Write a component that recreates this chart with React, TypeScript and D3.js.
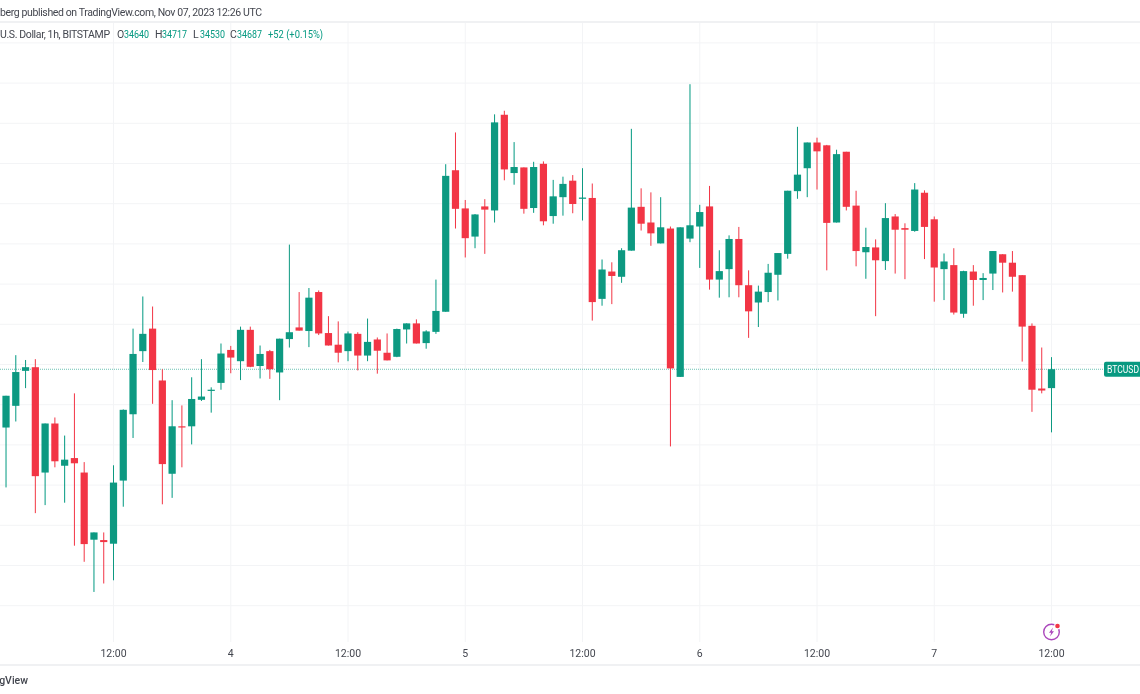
import React, { useEffect, useRef } from 'react';
import { select, scaleUtc, scaleLinear, axisBottom, axisLeft, utcHour, line } from 'd3';

const W = 1140;
const H = 694;

// hourly BITSTAMP candles, first one is Nov 3 01:00 UTC
const firstCandle = Date.UTC(2023, 10, 3, 1);

const opens = [
  34542, 34596, 34683, 34692, 34430, 34552, 34447, 34466, 34430, 34263, 34262, 34253,
  34410, 34575, 34732, 34788, 34659, 34427, 34545, 34545, 34611, 34633, 34653, 34735,
  34707, 34785, 34695, 34732, 34679, 34762, 34791, 34782, 34879, 34777, 34748, 34732,
  34775, 34721, 34761, 34728, 34718, 34786, 34801, 34752, 34780, 34830, 35182, 35087,
  35017, 35092, 35082, 35320, 35175, 35189, 35088, 35198, 35068, 35115, 35156, 35111,
  35113, 34862, 34930, 34917, 34982, 35091, 35052, 35000, 35037, 34668, 35012, 35042,
  35092, 34910, 34936, 35011, 34896, 34853, 34879, 34922, 34974, 35130, 35187, 35251,
  35244, 35052, 35228, 35094, 34978, 34990, 34956, 35067, 35038, 35031, 35126, 35060,
  34936, 34946, 34825, 34930, 34909, 34925, 34973, 34952, 34921, 34795, 34639, 34640,
];
const highs = [
  34621, 34722, 34710, 34712, 34552, 34567, 34522, 34627, 34456, 34281, 34281, 34448,
  34587, 34788, 34868, 34843, 34687, 34610, 34597, 34667, 34712, 34642, 34751, 34745,
  34793, 34793, 34746, 34735, 34763, 34997, 34879, 34889, 34883, 34819, 34806, 34781,
  34779, 34813, 34766, 34776, 34788, 34801, 34811, 34784, 34910, 35197, 35276, 35108,
  35073, 35110, 35321, 35330, 35252, 35189, 35203, 35204, 35158, 35166, 35170, 35187,
  35149, 34960, 34953, 34988, 35285, 35137, 35127, 35115, 35042, 35040, 35396, 35096,
  35143, 34983, 35020, 35041, 34933, 34895, 34949, 34976, 35131, 35290, 35251, 35263,
  35245, 35233, 35228, 35131, 35039, 35010, 35100, 35073, 35050, 35150, 35132, 35067,
  34975, 34988, 34932, 34946, 34926, 34981, 34973, 34981, 34921, 34801, 34741, 34717,
];
const lows = [
  34393, 34557, 34640, 34329, 34349, 34443, 34355, 34248, 34208, 34133, 34154, 34162,
  34345, 34516, 34705, 34601, 34351, 34367, 34443, 34500, 34608, 34579, 34636, 34677,
  34660, 34692, 34664, 34663, 34610, 34741, 34783, 34742, 34772, 34746, 34704, 34707,
  34684, 34707, 34676, 34709, 34717, 34751, 34751, 34738, 34775, 34830, 35037, 34965,
  34988, 34974, 35052, 35157, 35146, 35074, 35076, 35045, 35049, 35069, 35075, 35057,
  34808, 34845, 34849, 34902, 34982, 35032, 34994, 35000, 34495, 34668, 35003, 34939,
  34885, 34865, 34866, 34866, 34765, 34792, 34854, 34858, 34962, 35111, 35115, 35134,
  34933, 35052, 35082, 34943, 34912, 34819, 34934, 34925, 34911, 35029, 34961, 34855,
  34859, 34823, 34815, 34845, 34859, 34884, 34878, 34880, 34706, 34581, 34627, 34530,
];
const closes = [
  34621, 34680, 34692, 34421, 34552, 34458, 34462, 34453, 34252, 34281, 34257, 34405,
  34586, 34725, 34775, 34685, 34451, 34545, 34542, 34613, 34619, 34636, 34726, 34716,
  34785, 34693, 34725, 34687, 34763, 34779, 34783, 34865, 34776, 34746, 34728, 34776,
  34721, 34755, 34733, 34709, 34787, 34801, 34751, 34781, 34832, 35168, 35086, 35013,
  35072, 35084, 35301, 35184, 35190, 35086, 35190, 35055, 35117, 35148, 35098, 35114,
  34854, 34935, 34919, 34983, 35089, 35049, 35025, 35040, 34689, 35040, 35045, 35078,
  34910, 34931, 35011, 34896, 34831, 34880, 34927, 34976, 35131, 35171, 35251, 35229,
  35051, 35222, 35091, 34981, 34991, 34958, 35063, 35034, 35034, 35134, 35041, 34940,
  34955, 34828, 34931, 34909, 34914, 34981, 34952, 34917, 34793, 34636, 34634, 34687,
];

const priceGrid = [
  34100, 34200, 34300, 34400, 34500, 34600, 34700, 34800,
  34900, 35000, 35100, 35200, 35300, 35400, 35500,
];
const timeTicks = [
  Date.UTC(2023, 10, 3, 12), Date.UTC(2023, 10, 4, 0), Date.UTC(2023, 10, 4, 12),
  Date.UTC(2023, 10, 5, 0), Date.UTC(2023, 10, 5, 12), Date.UTC(2023, 10, 6, 0),
  Date.UTC(2023, 10, 6, 12), Date.UTC(2023, 10, 7, 0), Date.UTC(2023, 10, 7, 12),
];
const timeLabels = ['12:00', '4', '12:00', '5', '12:00', '6', '12:00', '7', '12:00'];

const lastClose = 34687;
// x is where each piece starts in the legend row
const ohlcLegend = [
  { key: 'O', value: '34640', x: 117 },
  { key: 'H', value: '34717', x: 155 },
  { key: 'L', value: '34530', x: 193 },
  { key: 'C', value: '34687', x: 230 },
];
const changeText = '+52 (+0.15%)';

const UP = '#089981';
const DOWN = '#F23645';
const GRID = '#f3f4f6';
const TEXT = '#43464f';
const FONT = 'Roboto, "Noto Sans", sans-serif';

const App = () => {
  const ref = useRef<SVGSVGElement>(null);

  useEffect(() => {
    const svg = select(ref.current);
    svg.selectAll('*').remove();

    const defs = svg.append('defs');
    defs.append('filter').attr('id', 'soft')
      .append('feGaussianBlur').attr('stdDeviation', 0.4);
    defs.append('filter').attr('id', 'softText')
      .append('feGaussianBlur').attr('stdDeviation', 0.3);

    const x = scaleUtc()
      .domain([new Date(timeTicks[0]), new Date(timeTicks[timeTicks.length - 1])])
      .range([113.5, 1051.5]);
    const y = scaleLinear().domain([34100, 35500]).range([605.2, 42.4]);

    // grid comes from the axes, ticks stretched over the pane
    const gridH = svg.append('g')
      .call(axisLeft(y).tickValues(priceGrid).tickSize(-W).tickFormat(() => ''));
    gridH.select('.domain').remove();
    gridH.selectAll('line').attr('stroke', GRID);

    const gridV = svg.append('g')
      .attr('transform', 'translate(0,642)')
      .call(axisBottom(x)
        .offset(0)
        .tickValues(timeTicks.map(d => new Date(d)))
        .tickSize(-620)
        .tickFormat((d, i) => timeLabels[i]));
    gridV.select('.domain').remove();
    gridV.selectAll('line').attr('stroke', GRID);
    gridV.selectAll('text')
      .attr('y', 15)
      .attr('dy', 0)
      .attr('fill', TEXT)
      .attr('filter', 'url(#softText)')
      .style('font', `10.5px ${FONT}`);

    // pane separators
    [22, 665].forEach(py => {
      svg.append('rect').attr('x', 0).attr('y', py - 1).attr('width', W).attr('height', 2).attr('fill', '#f0f1f3');
    });

    // last price line
    svg.append('path')
      .attr('d', line()([[0, y(lastClose)], [1104, y(lastClose)]]))
      .attr('stroke', UP)
      .attr('stroke-opacity', 0.6)
      .attr('stroke-width', 1.2)
      .attr('stroke-dasharray', '1 1')
      .attr('fill', 'none');

    const candles = opens.map((o, i) => ({
      time: new Date(utcHour.offset(new Date(firstCandle), i)),
      o, h: highs[i], l: lows[i], c: closes[i],
      color: closes[i] >= o ? UP : DOWN,
    }));

    const g = svg.append('g').attr('filter', 'url(#soft)');

    g.selectAll('.wick').data(candles).enter().append('rect')
      .attr('class', 'wick')
      .attr('x', d => x(d.time) - 0.5)
      .attr('width', 1)
      .attr('y', d => y(d.h))
      .attr('height', d => y(d.l) - y(d.h))
      .attr('fill', d => d.color);

    g.selectAll('.body').data(candles).enter().append('rect')
      .attr('class', 'body')
      .attr('x', d => x(d.time) - 3.6)
      .attr('width', 7.2)
      .attr('y', d => y(Math.max(d.o, d.c)))
      .attr('height', d => Math.max(1.2, Math.abs(y(d.o) - y(d.c))))
      .attr('fill', d => d.color);

    // symbol tag on the price scale, runs off the edge like the snapshot
    svg.append('rect')
      .attr('x', 1104).attr('y', y(lastClose) - 7.5)
      .attr('width', 50).attr('height', 15).attr('rx', 2)
      .attr('fill', UP);
    svg.append('text')
      .attr('x', 1107).attr('y', y(lastClose) + 3.5)
      .attr('fill', '#fff')
      .attr('textLength', 32)
      .attr('lengthAdjust', 'spacingAndGlyphs')
      .attr('filter', 'url(#softText)')
      .style('font', `10px ${FONT}`)
      .text('BTCUSD');

    const texts = svg.append('g')
      .attr('filter', 'url(#softText)')
      .style('font', `10.5px ${FONT}`);

    // header
    texts.append('text')
      .attr('x', 0).attr('y', 16)
      .attr('textLength', 262)
      .attr('fill', TEXT)
      .text('berg published on TradingView.com, Nov 07, 2023 12:26 UTC');

    texts.append('text')
      .attr('x', 0).attr('y', 38)
      .attr('textLength', 110)
      .attr('fill', TEXT)
      .text('U.S. Dollar, 1h, BITSTAMP');

    ohlcLegend.forEach(d => {
      texts.append('text').attr('x', d.x).attr('y', 38).attr('fill', TEXT).text(d.key);
      texts.append('text').attr('x', d.x + 7).attr('y', 38)
        .attr('textLength', 25)
        .attr('lengthAdjust', 'spacingAndGlyphs')
        .attr('fill', UP)
        .text(d.value);
    });
    texts.append('text')
      .attr('x', 268).attr('y', 38)
      .attr('textLength', 55)
      .attr('lengthAdjust', 'spacingAndGlyphs')
      .attr('fill', UP)
      .text(changeText);

    // footer
    texts.append('text')
      .attr('x', 28).attr('y', 684)
      .attr('text-anchor', 'end')
      .attr('fill', TEXT)
      .style('font-weight', 500)
      .text('TradingView');

    // the purple lightning marker under the last candle
    const mark = svg.append('g').attr('transform', `translate(${x(new Date(timeTicks[8]))},632)`);
    mark.append('circle').attr('r', 10).attr('fill', '#fff');
    mark.append('circle').attr('r', 7.8)
      .attr('fill', 'none').attr('stroke', '#ab47bc').attr('stroke-width', 1.4);
    mark.append('path')
      .attr('d', line()([[1.5, -4.5], [-2.5, 0.8], [-0.3, 0.8], [-1.5, 4.5], [2.5, -0.8], [0.3, -0.8]]))
      .attr('fill', '#ab47bc');
    mark.append('circle').attr('cx', 6).attr('cy', -6).attr('r', 3.4).attr('fill', '#fff');
    mark.append('circle').attr('cx', 6).attr('cy', -6).attr('r', 2.3).attr('fill', '#F23645');
  }, []);

  return (
    <svg
      ref={ref}
      width={W}
      height={H}
      style={{ position: 'fixed', left: 0, top: 0, background: '#fff' }}
    />
  );
};

export default App;
